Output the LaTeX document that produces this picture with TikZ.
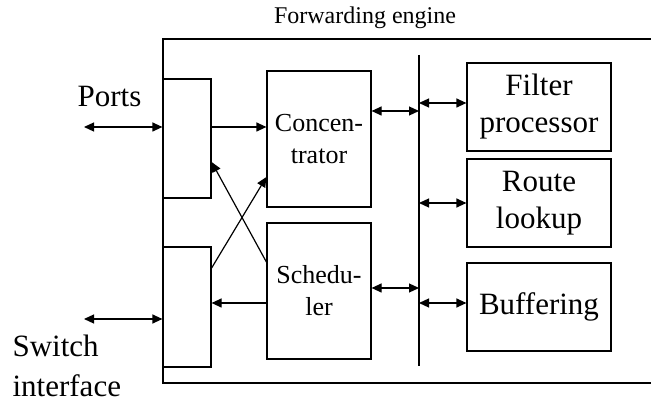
\documentclass[tikz,border=0pt]{standalone}
\usepackage{fontspec}
\setmainfont{Liberation Serif}
\usetikzlibrary{arrows.meta}

\begin{document}
\begin{tikzpicture}[x=1pt,y=-1pt,line width=1.2pt,
    box/.style={draw,rectangle,inner sep=0pt,align=center},
    midtext/.style={font=\fontsize{26}{32}\selectfont},
    bigtext/.style={font=\fontsize{31}{37}\selectfont},
    link/.style={-{Triangle[length=10pt,width=9pt]}},
    both/.style={{Triangle[length=10pt,width=9pt]}-{Triangle[length=10pt,width=9pt]}}]

    \useasboundingbox (0,0) rectangle (651,403);

    % Engine frame (open at the right)
    \draw (651,39) -- (163,39) -- (163,383) -- (651,383);
    \node[font=\fontsize{24}{29}\selectfont] (title) at (365,18) {Forwarding engine};

    % Port boxes
    \node[box,minimum width=48pt,minimum height=119pt] (porttop) at (187,138.5) {};
    \node[box,minimum width=48pt,minimum height=120pt] (portbot) at (187,307) {};

    % Concentrator and scheduler
    \node[box,midtext,minimum width=104pt,minimum height=136pt] (conc) at (319,139) {Concen-\\trator};
    \node[box,midtext,minimum width=104pt,minimum height=136pt] (sched) at (319,291) {Schedu-\\ler};

    % Bus
    \coordinate (bustop) at (419,55);
    \coordinate (busbot) at (419,366);
    \draw (bustop) -- (busbot);

    % Function boxes
    \node[box,bigtext,minimum width=144pt,minimum height=88pt] (filter) at (539,107) {Filter\\processor};
    \node[box,bigtext,minimum width=144pt,minimum height=88pt] (route) at (539,203) {Route\\lookup};
    \node[box,bigtext,minimum width=144pt,minimum height=88pt] (buffer) at (539,307) {Buffering};

    % Outside labels
    \node[bigtext,anchor=base west,inner sep=0pt] (ports) at (77,107) {Ports};
    \node[font=\fontsize{31}{40}\selectfont,anchor=base west,align=left,inner sep=0pt] (switch) at (12,397) {Switch\\interface};

    % Outside ends
    \coordinate (portsend) at (84,127);
    \coordinate (switchend) at (84,319);

    % Connectors
    \draw[both] (portsend) -- (porttop.west |- portsend);
    \draw[both] (switchend) -- (portbot.west |- switchend);
    \draw[link] (porttop.east |- portsend) -- (conc.west |- portsend);
    \draw[link] (sched.west |- 0,303) -- (portbot.east |- 0,303);
    \draw[link] (portbot.east |- 0,268) -- (conc.west |- 0,177);
    \draw[link] (sched.west |- 0,262) -- (porttop.east |- 0,162);
    \draw[both] (conc.east |- 0,111) -- (bustop |- 0,111);
    \draw[both] (sched.east |- 0,288) -- (bustop |- 0,288);
    \draw[both] (bustop |- 0,103) -- (filter.west |- 0,103);
    \draw[both] (bustop |- route.west) -- (route.west);
    \draw[both] (bustop |- 0,303) -- (buffer.west |- 0,303);

\end{tikzpicture}
\end{document}
